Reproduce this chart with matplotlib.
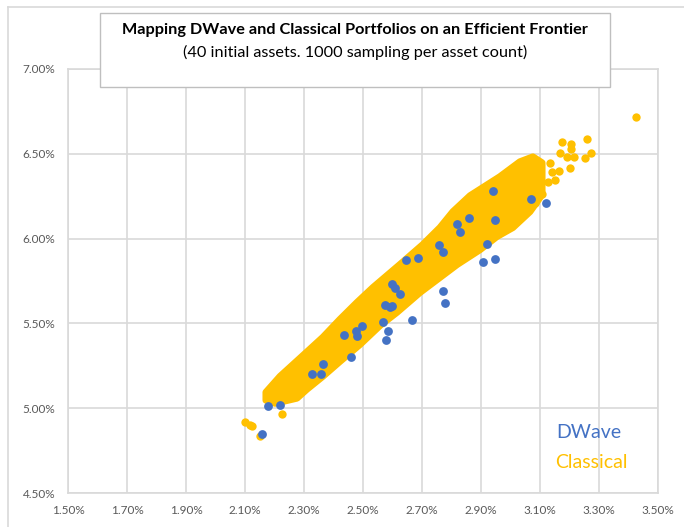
import matplotlib
matplotlib.use('Agg')
import matplotlib.pyplot as plt
from matplotlib.patches import Rectangle
from matplotlib.ticker import PercentFormatter, MultipleLocator

# все значения в процентах: x - риск, y - доходность
dwave_risk = [2.158, 2.178, 2.220, 2.328, 2.357, 2.366, 2.458, 2.437, 2.476, 2.479,
              2.496, 2.567, 2.585, 2.578, 2.576, 2.592, 2.597, 2.597, 2.607, 2.626,
              2.666, 2.646, 2.688, 2.759, 2.770, 2.770, 2.777, 2.819, 2.829, 2.858,
              2.907, 2.919, 2.949, 2.949, 2.940, 3.070, 3.119]
dwave_return = [4.849, 5.011, 5.019, 5.201, 5.201, 5.260, 5.302, 5.432, 5.458, 5.428,
                5.483, 5.511, 5.458, 5.400, 5.610, 5.598, 5.602, 5.734, 5.709, 5.673,
                5.521, 5.872, 5.886, 5.965, 5.922, 5.689, 5.622, 6.084, 6.040, 6.119,
                5.863, 5.971, 5.882, 6.109, 6.283, 6.234, 6.210]

# границы плотной полосы классических портфелей
band_upper_risk = [2.171, 2.219, 2.286, 2.364, 2.422, 2.480, 2.534, 2.625, 2.703,
                   2.761, 2.805, 2.863, 2.964, 3.032, 3.076, 3.107]
band_upper_return = [5.094, 5.188, 5.294, 5.418, 5.524, 5.624, 5.712, 5.847, 5.965,
                     6.065, 6.159, 6.253, 6.365, 6.453, 6.482, 6.447]
band_lower_risk = [2.171, 2.202, 2.276, 2.310, 2.364, 2.422, 2.490, 2.558, 2.615,
                   2.693, 2.761, 2.819, 2.897, 2.954, 3.008, 3.066, 3.107]
band_lower_return = [5.047, 5.029, 5.059, 5.112, 5.188, 5.276, 5.376, 5.488, 5.565,
                     5.682, 5.771, 5.847, 5.935, 6.012, 6.065, 6.159, 6.259]

# отдельные классические точки вне полосы
classical_risk = [2.100, 2.117, 2.124, 2.151, 2.225, 3.425, 3.175, 3.259, 3.205, 3.205,
                  3.168, 3.191, 3.215, 3.273, 3.253, 3.202, 3.164, 3.134, 3.141, 3.127,
                  3.151, 3.083, 3.107]
classical_return = [4.918, 4.900, 4.894, 4.835, 4.965, 6.718, 6.571, 6.588, 6.559, 6.529,
                    6.505, 6.483, 6.482, 6.506, 6.476, 6.418, 6.400, 6.447, 6.394, 6.335,
                    6.347, 6.212, 6.263]

BLUE = '#4472C4'
GOLD = '#FFC000'
GRID = '#D9D9D9'
FONT = 'Lato'

fig = plt.figure(figsize=(6.84, 5.27), dpi=100)
ax = fig.add_axes([68 / 684, 1 - 493 / 527, 590 / 684, 424 / 527])

band_x = band_upper_risk + band_lower_risk[::-1]
band_y = band_upper_return + band_lower_return[::-1]
ax.fill(band_x, band_y, facecolor=GOLD, edgecolor=GOLD, lw=5, joinstyle='round', zorder=2)
ax.scatter(classical_risk, classical_return, s=36, color=GOLD, lw=0, zorder=2)
ax.scatter(dwave_risk, dwave_return, s=40, color=BLUE, lw=0, zorder=3)

ax.set_xlim(1.5, 3.5)
ax.set_ylim(4.5, 7.0)
ax.xaxis.set_major_locator(MultipleLocator(0.2, offset=0.1))
ax.yaxis.set_major_locator(MultipleLocator(0.5))
ax.xaxis.set_major_formatter(PercentFormatter(100, decimals=2))
ax.yaxis.set_major_formatter(PercentFormatter(100, decimals=2))
ax.grid(True, color=GRID, lw=1.2, zorder=0)
ax.set_axisbelow(True)
for sp in ax.spines.values():
    sp.set_color(GRID)
    sp.set_linewidth(1.2)
ax.tick_params(length=0, labelcolor='#595959', labelsize=8.5)
ax.tick_params(axis='x', pad=9)
ax.tick_params(axis='y', pad=9)
for lbl in ax.get_xticklabels() + ax.get_yticklabels():
    lbl.set_family(FONT)

# рамка всей диаграммы
fig.add_artist(plt.Line2D([8 / 684, 8 / 684], [0, 1 - 7 / 527], color=GRID, lw=1.2,
                          transform=fig.transFigure))
fig.add_artist(plt.Line2D([8 / 684, 1], [1 - 7 / 527, 1 - 7 / 527], color=GRID, lw=1.2,
                          transform=fig.transFigure))

# блок заголовка
fig.add_artist(Rectangle((101 / 684, 1 - 88 / 527), 510 / 684, 74 / 527,
                         transform=fig.transFigure, facecolor='#D0D0D0', edgecolor='none',
                         zorder=5))
fig.add_artist(Rectangle((100 / 684, 1 - 87 / 527), 510 / 684, 74 / 527,
                         transform=fig.transFigure, facecolor='white', edgecolor='#BFBFBF',
                         lw=1, zorder=6))
fig.text(355 / 684, 1 - 30 / 527, 'Mapping DWave and Classical Portfolios on an Efficient Frontier',
         ha='center', va='center', fontsize=11.7, fontweight='bold', family=FONT, zorder=7)
fig.text(355 / 684, 1 - 52 / 527, '(40 initial assets. 1000 sampling per asset count)',
         ha='center', va='center', fontsize=11.7, family=FONT, zorder=7)

# подписи серий
fig.text(556 / 684, 1 - 433 / 527, 'DWave', color=BLUE, fontsize=14, family=FONT,
         ha='left', va='center')
fig.text(555 / 684, 1 - 463 / 527, 'Classical', color=GOLD, fontsize=14, family=FONT,
         ha='left', va='center')

fig.savefig('out.png', dpi=100)
